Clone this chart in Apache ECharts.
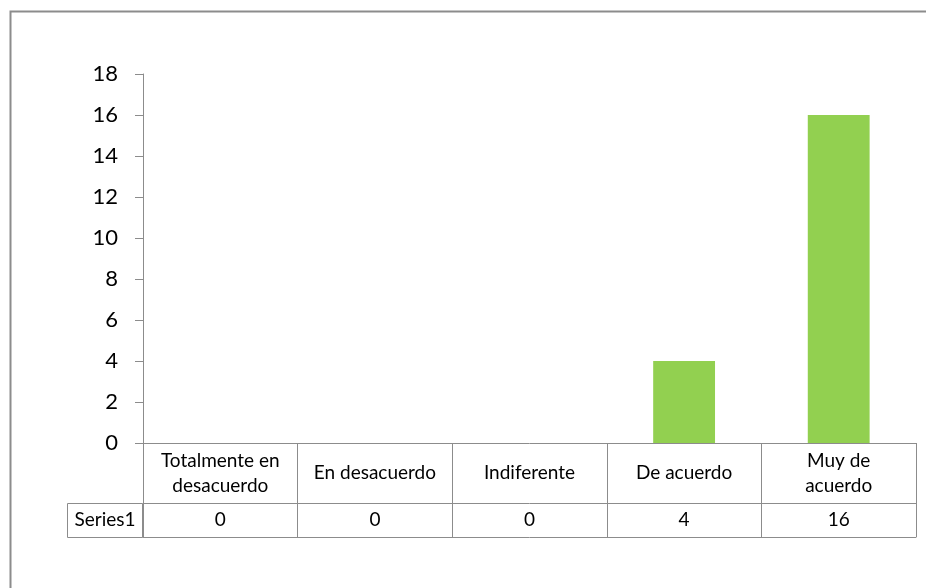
<!DOCTYPE html>
<html>
<head>
<meta charset="utf-8">
<script src="https://cdn.jsdelivr.net/npm/echarts@6/dist/echarts.min.js"></script>
<style>
  html, body { margin: 0; padding: 0; background: #fff; }
  #chart { width: 926px; height: 588px; }
</style>
</head>
<body>
<div id="chart"></div>
<script>
var categories = ['Totalmente en\ndesacuerdo', 'En desacuerdo', 'Indiferente', 'De acuerdo', 'Muy de\nacuerdo'];
var seriesName = 'Series1';
var values = [0, 0, 0, 4, 16];
var yTicks = [0, 2, 4, 6, 8, 10, 12, 14, 16, 18];

var lineGray = '#8c8c8c';
var font = 'Lato, "Open Sans", sans-serif';

var chart = echarts.init(document.getElementById('chart'));
chart.setOption({
  animation: false,
  grid: { left: 143, right: 10, top: 74, bottom: 145 },
  xAxis: [
    {
      // header row: category names, ticks run down through both rows
      type: 'category',
      data: categories,
      position: 'bottom',
      axisLine: { lineStyle: { color: lineGray, width: 1 } },
      axisTick: { show: true, interval: 0, length: 94, lineStyle: { color: lineGray } },
      axisLabel: {
        interval: 0, hideOverlap: false,
        margin: 30, verticalAlign: 'middle', color: '#000',
        fontFamily: font, fontSize: 19, lineHeight: 25
      }
    },
    {
      // data row: values
      type: 'category',
      data: values.map(String),
      position: 'bottom',
      offset: 60,
      axisLine: { lineStyle: { color: lineGray, width: 1 } },
      axisTick: { show: false },
      axisLabel: {
        interval: 0, hideOverlap: false,
        margin: 17, verticalAlign: 'middle', color: '#000',
        fontFamily: font, fontSize: 19
      }
    },
    {
      // bottom edge of the table
      type: 'category',
      data: values.map(String),
      position: 'bottom',
      offset: 94,
      axisLine: { lineStyle: { color: lineGray, width: 1 } },
      axisTick: { show: false },
      axisLabel: { show: false }
    }
  ],
  yAxis: {
    type: 'value',
    min: yTicks[0],
    max: yTicks[yTicks.length - 1],
    interval: 2,
    axisLine: { show: true, lineStyle: { color: lineGray } },
    axisTick: { show: true, length: 8, lineStyle: { color: lineGray } },
    splitLine: { show: false },
    axisLabel: { margin: 25, color: '#000', fontFamily: font, fontSize: 22 }
  },
  series: [{
    name: seriesName,
    type: 'bar',
    data: values,
    barWidth: '40%',
    itemStyle: { color: '#92d050' }
  }],
  graphic: [
    {
      type: 'rect',
      shape: { x: 10.5, y: 11.5, width: 1000, height: 1000 },
      style: { fill: 'none', stroke: '#8c8c8c', lineWidth: 2 },
      silent: true
    },
    {
      type: 'rect',
      shape: { x: 67.5, y: 503.5, width: 75, height: 34 },
      style: { fill: 'none', stroke: lineGray, lineWidth: 1 },
      silent: true
    },
    {
      type: 'text',
      x: 105, y: 520,
      style: {
        text: seriesName, fill: '#000', font: '19px ' + font,
        align: 'center', verticalAlign: 'middle'
      },
      silent: true
    }
  ]
});
</script>
</body>
</html>
